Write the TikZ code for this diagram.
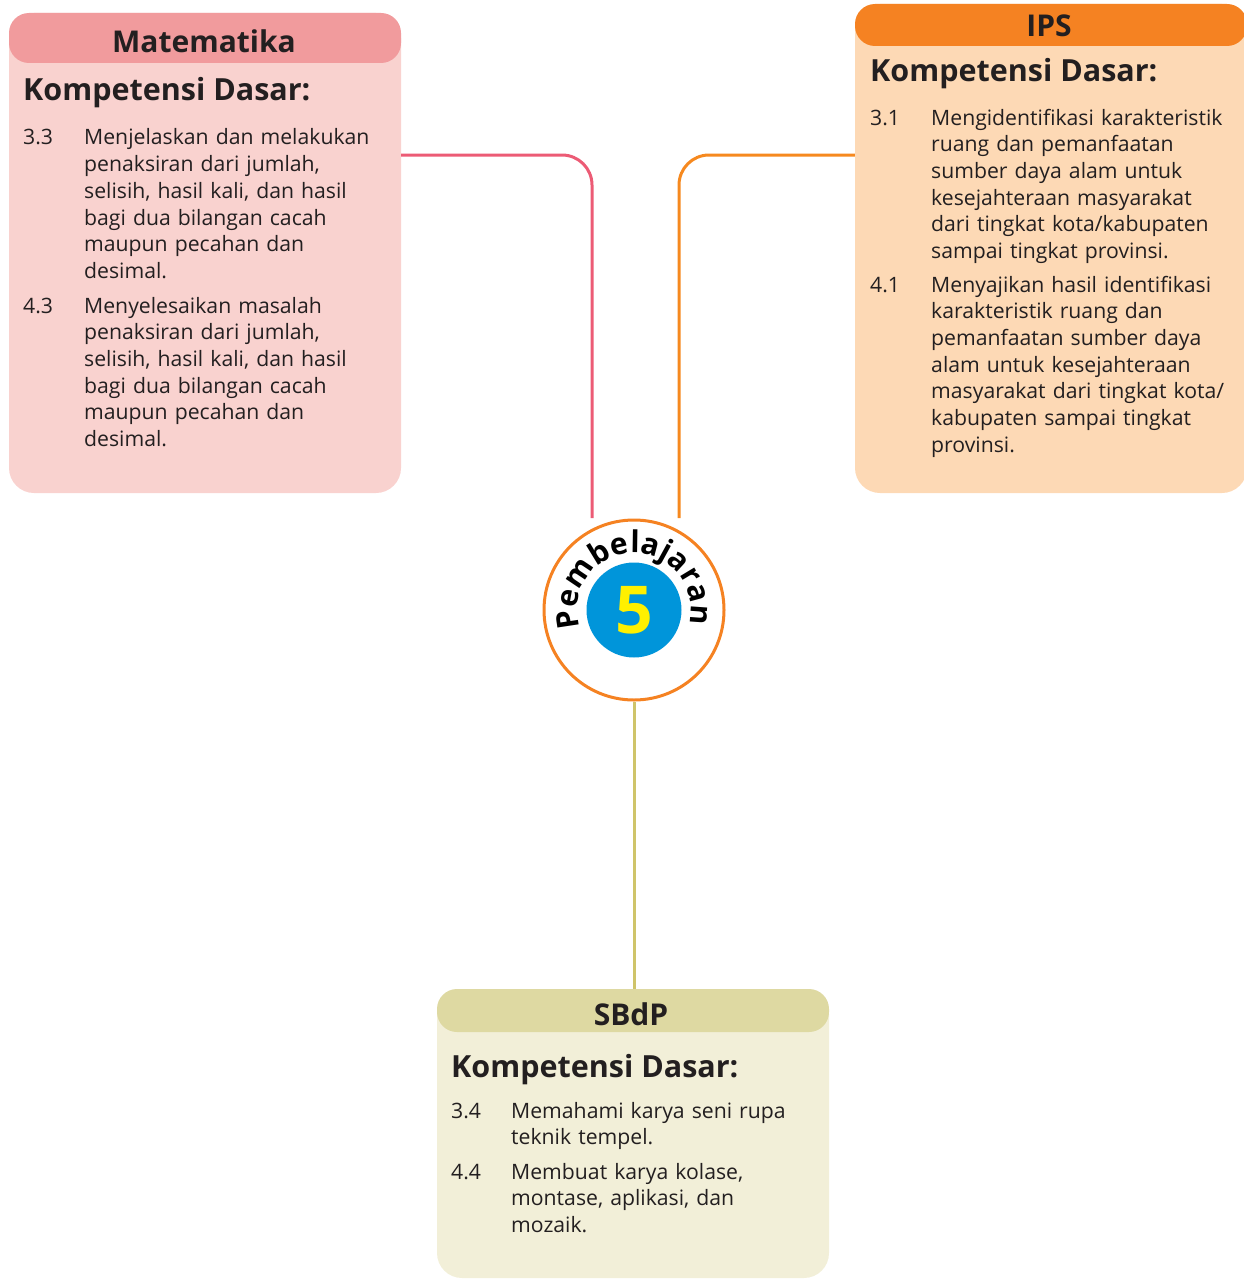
\documentclass[tikz,border=0pt]{standalone}
\usepackage{fontspec}
\setmainfont{Open Sans}
\usetikzlibrary{decorations.text,calc}

\definecolor{txt}{HTML}{231F20}
\definecolor{mathead}{HTML}{F19B9D}
\definecolor{matbody}{HTML}{F9D2CF}
\definecolor{matline}{HTML}{EC5B75}
\definecolor{ipshead}{HTML}{F58222}
\definecolor{ipsbody}{HTML}{FDD9B5}
\definecolor{ipsline}{HTML}{F6891F}
\definecolor{sbhead}{HTML}{DED9A2}
\definecolor{sbbody}{HTML}{F2EFD8}
\definecolor{sbline}{HTML}{CFC46A}
\definecolor{pbblue}{HTML}{0095DA}
\definecolor{pbyellow}{HTML}{FFF000}

\newcommand{\pbfont}{\bfseries\fontsize{30}{30}\selectfont}

\begin{document}
\begin{tikzpicture}[x=1pt,y=1pt,
    box/.style={rectangle, rounded corners=25pt, inner sep=0pt, minimum width=392pt},
    headbox/.style={box, rounded corners=20pt},
    title/.style={anchor=base, inner sep=0pt, text=txt, font=\bfseries\fontsize{30}{34}\selectfont},
    kd/.style={anchor=base west, inner sep=0pt, text=txt, font=\bfseries\fontsize{30.5}{34}\selectfont},
    num/.style={anchor=base west, inner sep=0pt, text=txt, font=\fontsize{21.2}{26.7}\selectfont},
    item/.style={num, align=left, text width=340pt},
    link/.style={line width=3pt, rounded corners=30pt}]
    \useasboundingbox (0,0) rectangle (1243,-1279);

    % Draw the three subject boxes
    \node[box, fill=matbody, minimum height=480pt] (mat) at (205,-253) {};
    \node[headbox, fill=mathead, minimum height=50pt] (mathd) at (205,-38) {};
    \node[box, fill=ipsbody, minimum height=489pt] (ips) at (1051,-248.5) {};
    \node[headbox, fill=ipshead, minimum height=42pt] (ipshd) at (1051,-25) {};
    \node[box, fill=sbbody, minimum height=289pt] (sb) at (633,-1133.5) {};
    \node[headbox, fill=sbhead, minimum height=43pt] (sbhd) at (633,-1010.5) {};

    % Titles
    \node[title] (mattitle) at (204,-53) {Matematika};
    \node[title] (ipstitle) at (1049,-37) {IPS};
    \node[title] (sbtitle) at (631,-1025) {SBdP};

    % Matematika
    \node[kd] (matkd) at (23,-101) {Kompetensi Dasar:};
    \node[num] (m33) at (23,-145) {3.3};
    \node[item] (m33t) at (84,-145) {Menjelaskan dan melakukan\\penaksiran dari jumlah,\\selisih, hasil kali, dan hasil\\bagi dua bilangan cacah\\maupun pecahan dan\\desimal.};
    \node[num] (m43) at (23,-313) {4.3};
    \node[item] (m43t) at (84,-313) {Menyelesaikan masalah\\penaksiran dari jumlah,\\selisih, hasil kali, dan hasil\\bagi dua bilangan cacah\\maupun pecahan dan\\desimal.};

    % IPS
    \node[kd] (ipskd) at (870,-82) {Kompetensi Dasar:};
    \node[num] (i31) at (870,-125) {3.1};
    \node[item] (i31t) at (931,-125) {Mengidentifikasi karakteristik\\ruang dan pemanfaatan\\sumber daya alam untuk\\kesejahteraan masyarakat\\dari tingkat kota/kabupaten\\sampai tingkat provinsi.};
    \node[num] (i41) at (870,-292) {4.1};
    \node[item] (i41t) at (931,-292) {Menyajikan hasil identifikasi\\karakteristik ruang dan\\pemanfaatan sumber daya\\alam untuk kesejahteraan\\masyarakat dari tingkat kota/\\kabupaten sampai tingkat\\provinsi.};

    % SBdP
    \node[kd] (sbkd) at (451,-1077) {Kompetensi Dasar:};
    \node[num] (s34) at (451,-1118) {3.4};
    \node[item] (s34t) at (511,-1118) {Memahami karya seni rupa\\teknik tempel.};
    \node[num] (s44) at (451,-1179) {4.4};
    \node[item] (s44t) at (511,-1179) {Membuat karya kolase,\\montase, aplikasi, dan\\mozaik.};

    % Centre badge
    \node[circle, draw=ipshead, line width=3pt, fill=white, minimum size=180pt, inner sep=0pt] (pb) at (634,-610) {};
    \node[circle, fill=pbblue, minimum size=95pt, inner sep=0pt, text=pbyellow,
          font=\bfseries\fontsize{66}{66}\selectfont] (pbnum) at (pb.center) {5};
    \path[decorate, decoration={text along path, text={|\pbfont|Pembelajaran}, text align={fit to path}}]
        ($(pb.center)+(198:57)$) arc[start angle=198, end angle=-14, radius=57];

    % Connectors
    \coordinate (matout) at (mat.east |- 0,-155);
    \coordinate (ipsout) at (ips.west |- 0,-155);
    \coordinate (matin) at ($(pb.center)+(-42,92)$);
    \coordinate (ipsin) at ($(pb.center)+(45,92)$);
    \draw[link, matline] (matout) -| (matin);
    \draw[link, ipsline] (ipsout) -| (ipsin);
    \draw[link, sbline] (pb.south) -- (pb.south |- sb.north);
\end{tikzpicture}
\end{document}
